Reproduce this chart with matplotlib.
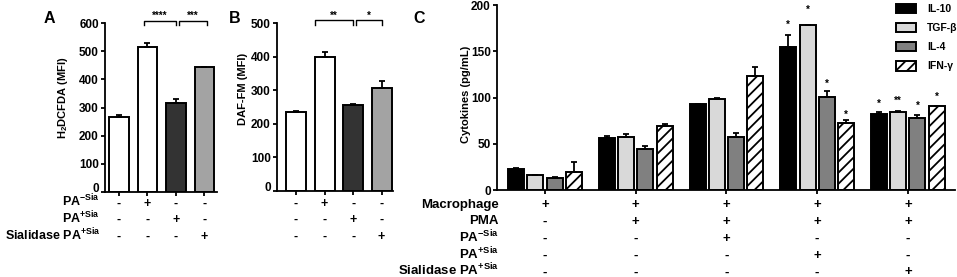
import matplotlib
matplotlib.use("Agg")
import matplotlib.pyplot as plt
import numpy as np

plt.rcParams.update({
    'font.family': ['Liberation Sans', 'DejaVu Sans'],
    'font.weight': 'bold',
    'mathtext.fontset': 'custom',
    'mathtext.default': 'bf',
    'mathtext.bf': 'Liberation Sans:bold',
    'mathtext.rm': 'Liberation Sans:bold',
    'hatch.linewidth': 1.3,
    'axes.linewidth': 1.3,
})

# ---------------- data ----------------
a_values = [265, 514, 315, 443]
a_errors = [8, 15, 14, 1]
a_colors = ['white', 'white', '#333333', '#a3a3a3']
a_ticks = [0, 100, 200, 300, 400, 500, 600]

b_values = [236, 400, 255, 306]
b_errors = [2, 15, 4, 23]
b_colors = ['white', 'white', '#333333', '#a3a3a3']
b_ticks = [0, 100, 200, 300, 400, 500]

ab_row_labels = ['PA$^{-Sia}$', 'PA$^{+Sia}$', 'Sialidase PA$^{+Sia}$']
ab_table = [['-', '+', '-', '-'],
            ['-', '-', '+', '-'],
            ['-', '-', '-', '+']]

c_series = ['IL-10', 'TGF-β', 'IL-4', 'IFN-γ']
c_il10 = [23, 56, 93, 155, 82]
c_tgfb = [16, 58, 99, 178, 85]
c_il4 = [13, 45, 57, 101, 78]
c_ifng = [20, 69, 123, 73, 91]
c_il10_err = [1, 3, 0.5, 13, 2]
c_tgfb_err = [1, 3, 0.5, 0.8, 0.5]
c_il4_err = [1, 3, 5, 6, 3]
c_ifng_err = [11, 3, 10, 3, 0.5]
c_ticks = [0, 50, 100, 150, 200]

c_stars = [['', '', '', ''],
           ['', '', '', ''],
           ['', '', '', ''],
           ['*', '*', '*', '*'],
           ['*', '**', '*', '*']]
c_star_y = [[0, 0, 0, 0], [0, 0, 0, 0], [0, 0, 0, 0],
            [181, 197, 117, 83.5],
            [95, 98.6, 93, 103]]

c_row_labels = ['Macrophage', 'PMA', 'PA$^{-Sia}$', 'PA$^{+Sia}$', 'Sialidase PA$^{+Sia}$']
c_table = [['+', '+', '+', '+', '+'],
           ['-', '+', '+', '+', '+'],
           ['-', '-', '+', '-', '-'],
           ['-', '-', '-', '+', '-'],
           ['-', '-', '-', '-', '+']]

# ---------------- figure ----------------
W, H = 957, 277
fig = plt.figure(figsize=(W / 100, H / 100), dpi=100)
blend = matplotlib.transforms.blended_transform_factory


def box(l, t, r, b):
    return [l / W, 1 - b / H, (r - l) / W, (b - t) / H]


def style(ax):
    for s in ['top', 'right']:
        ax.spines[s].set_visible(False)
    ax.tick_params(axis='both', direction='out', length=3, width=1.3,
                   labelsize=8.5)
    ax.tick_params(axis='y', pad=1.5)
    ax.tick_params(axis='x', labelbottom=False)
    for lab in ax.get_yticklabels():
        lab.set_fontweight('bold')


def lift_zero_label(ax):
    # nudge the "0" tick label slightly upward, as in the reference
    tick = ax.yaxis.get_major_ticks()[0]
    lab = tick.label1
    lab.set_transform(lab.get_transform() +
                      matplotlib.transforms.ScaledTranslation(0, 4.5 / 100, fig.dpi_scale_trans))


def bracket(ax, x0, x1, ytop, ytip, text, ystar):
    ax.plot([x0, x0, x1, x1], [ytip, ytop, ytop, ytip], color='black',
            lw=1.0, clip_on=False)
    ax.annotate(text, xy=((x0 + x1) / 2, ystar), xytext=(0, -5),
                textcoords='offset pixels', ha='center', va='baseline',
                fontsize=7, annotation_clip=False)


# Panel A
axA = fig.add_axes(box(105, 23.3, 217, 191.7))
xa = np.arange(len(a_values))
axA.bar(xa, a_values, width=0.67, color=a_colors, edgecolor='black', lw=1.4,
        yerr=[np.zeros(len(a_errors)), a_errors], capsize=2.5,
        error_kw=dict(elinewidth=1.3, capthick=1.3), zorder=2)
axA.set_ylim(0, 600)
axA.set_xlim(-0.49, 3.44)
axA.set_yticks(a_ticks)
axA.set_xticks(xa)
style(axA)
lift_zero_label(axA)
bracket(axA, 0.88, 2.0, 609, 594, '****', 635)
bracket(axA, 2.1, 3.08, 609, 594, '***', 635)

# Panel B
axB = fig.add_axes(box(277, 23.3, 393, 190.7))
xb = np.arange(len(b_values))
axB.bar(xb, b_values, width=0.7, color=b_colors, edgecolor='black', lw=1.4,
        yerr=[np.zeros(len(b_errors)), b_errors], capsize=2.5,
        error_kw=dict(elinewidth=1.3, capthick=1.3), zorder=2)
axB.set_ylim(0, 500)
axB.set_xlim(-0.667, 3.40)
axB.set_yticks(b_ticks)
axB.set_xticks(xb)
style(axB)
lift_zero_label(axB)
bracket(axB, 0.67, 2.0, 509.6, 494.6, '**', 527)
bracket(axB, 2.1, 3.02, 509.6, 494.6, '*', 527)

# Panel C
axC = fig.add_axes(box(497, 5, 955, 190.3))
xc = np.arange(len(c_il10))
c_vals = [c_il10, c_tgfb, c_il4, c_ifng]
c_errs = [c_il10_err, c_tgfb_err, c_il4_err, c_ifng_err]
c_cols = ['black', '#d9d9d9', '#808080', 'white']
c_hatch = [None, None, None, '///']
step = 0.212
bw = 0.176
for i in range(4):
    off = (i - 1.5) * step
    axC.bar(xc + off, c_vals[i], width=bw, color=c_cols[i], edgecolor='black',
            lw=1.4, hatch=c_hatch[i], label=c_series[i],
            yerr=[np.zeros(len(c_errs[i])), c_errs[i]], capsize=2.2,
            error_kw=dict(elinewidth=1.3, capthick=1.3), zorder=2)
axC.set_ylim(0, 200)
axC.set_xlim(-0.53, 4.52)
axC.set_yticks(c_ticks)
axC.set_xticks(xc)
style(axC)
for g in range(len(xc)):
    for i, s in enumerate(c_stars[g]):
        if s:
            axC.annotate(s, xy=(xc[g] + (i - 1.5) * step, c_star_y[g][i]),
                         xytext=(0, -5), textcoords='offset pixels',
                         ha='center', va='baseline', fontsize=7,
                         annotation_clip=False)

leg = axC.legend(loc='upper left', bbox_to_anchor=(896 / W, 1 - 4 / H),
                 bbox_transform=fig.transFigure, frameon=False, fontsize=7.5,
                 handlelength=1.9, handleheight=1.0, labelspacing=0.85,
                 handletextpad=1.1, borderpad=0, borderaxespad=0)
for t in leg.get_texts():
    t.set_fontweight('bold')

# Y labels
fig.text(63 / W, 1 - 98 / H, 'H$_2$DCFDA (MFI)', rotation=90, ha='center',
         va='center', fontsize=8)
fig.text(243 / W, 1 - 89 / H, 'DAF-FM (MFI)', rotation=90, ha='center',
         va='center', fontsize=8)
fig.text(466 / W, 1 - 94.5 / H, 'Cytokines (pg/mL)', rotation=90,
         ha='center', va='center', fontsize=8)

# Panel letters
fig.text(49.5 / W, 1 - 23 / H, 'A', ha='center', va='baseline', fontsize=11.5)
fig.text(234.5 / W, 1 - 23 / H, 'B', ha='center', va='baseline', fontsize=11.5)
fig.text(419 / W, 1 - 23 / H, 'C', ha='center', va='baseline', fontsize=11.5)

# Tables A and B
ab_base = [206.5, 223, 240]
for r, lab in enumerate(ab_row_labels):
    fig.text(100 / W, 1 - ab_base[r] / H, lab, ha='right', va='baseline',
             fontsize=9)
    for ax in (axA, axB):
        for j, sym in enumerate(ab_table[r]):
            ax.text(j, 1 - ab_base[r] / H, sym, ha='center', va='baseline',
                    fontsize=9, transform=blend(ax.transData, fig.transFigure))

c_base = [208.3, 224.5, 242, 259, 275.5]
for r, lab in enumerate(c_row_labels):
    fig.text(499 / W, 1 - c_base[r] / H, lab, ha='right', va='baseline',
             fontsize=9.5)
    for j, sym in enumerate(c_table[r]):
        axC.text(j, 1 - c_base[r] / H, sym, ha='center', va='baseline',
                 fontsize=9.5, transform=blend(axC.transData, fig.transFigure))

fig.savefig('out.png', dpi=100)
